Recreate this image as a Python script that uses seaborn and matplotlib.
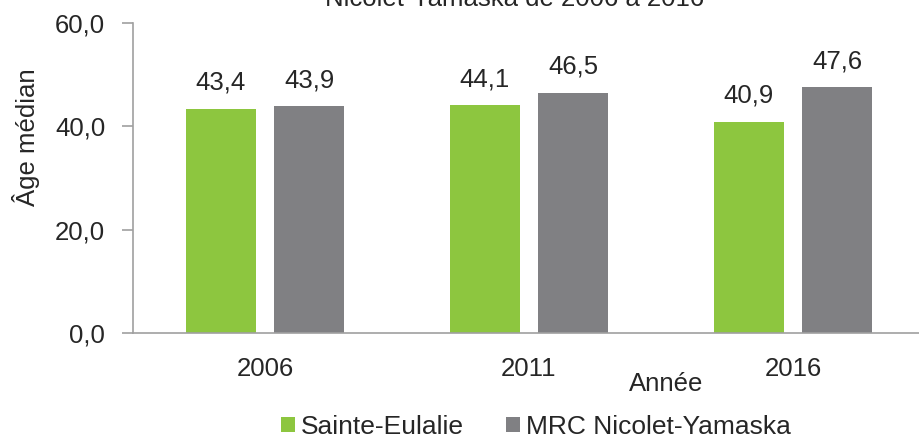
import pandas as pd
import matplotlib
matplotlib.use("Agg")
import matplotlib.pyplot as plt
import seaborn as sns

years = ["2006", "2011", "2016"]
sainte_eulalie = [43.4, 44.1, 40.9]
mrc = [43.9, 46.5, 47.6]
series_names = ["Sainte-Eulalie", "MRC Nicolet-Yamaska"]
y_ticks = [0, 20, 40, 60]

df = pd.DataFrame({
    "Année": years * 2,
    "age": sainte_eulalie + mrc,
    "zone": [series_names[0]] * 3 + [series_names[1]] * 3,
})

sns.set_style("white")
plt.rcParams["font.family"] = ["Liberation Sans", "DejaVu Sans"]

W, H = 919, 438
FS = 18.5
fig = plt.figure(figsize=(W / 100, H / 100), dpi=100)
ax = fig.add_axes([133 / W, (H - 333) / H, 792 / W, 310 / H])

palette = {series_names[0]: "#8DC63F", series_names[1]: "#808083"}
sns.barplot(data=df, x="Année", y="age", hue="zone", palette=palette,
            width=0.667, gap=0.2, dodge=True, ax=ax, legend=True,
            linewidth=0, saturation=1)

for cont in ax.containers:
    ax.bar_label(cont, labels=[f"{v:.1f}".replace(".", ",") for v in cont.datavalues],
                 padding=10, fontsize=FS)

ax.set_ylim(0, 60)
ax.set_yticks(y_ticks)
ax.set_yticklabels([f"{t:.1f}".replace(".", ",") for t in y_ticks], fontsize=FS)
ax.tick_params(axis="y", length=8, width=1.2, color="#A0A0A0", pad=12, direction="out", left=True)
ax.tick_params(axis="x", length=0, labelsize=FS, pad=17)
ax.set_xlim(-0.5, 2.5)

for s in ["top", "right"]:
    ax.spines[s].set_visible(False)
for s in ["left", "bottom"]:
    ax.spines[s].set_color("#A0A0A0")
    ax.spines[s].set_linewidth(1.2)

ax.set_xlabel("")
ax.set_ylabel("Âge médian", fontsize=FS)
ax.yaxis.set_label_coords(-0.118, 0.632)
fig.text(666 / W, 1 - 384 / H, "Année", fontsize=FS, ha="center", va="center")

fig.text(515 / W, 1 - 6 / H, "Nicolet-Yamaska de 2006 à 2016", fontsize=FS,
         ha="center", va="baseline")

handles, labels = ax.get_legend_handles_labels()
ax.legend_.remove()
fig.legend(handles, labels, loc="center", bbox_to_anchor=(536 / W, 1 - 427 / H),
           ncol=2, frameon=False, fontsize=19, handlelength=0.53, handleheight=0.53,
           handletextpad=0.23, columnspacing=1.6, borderpad=0)

fig.savefig("out.png", dpi=100)
